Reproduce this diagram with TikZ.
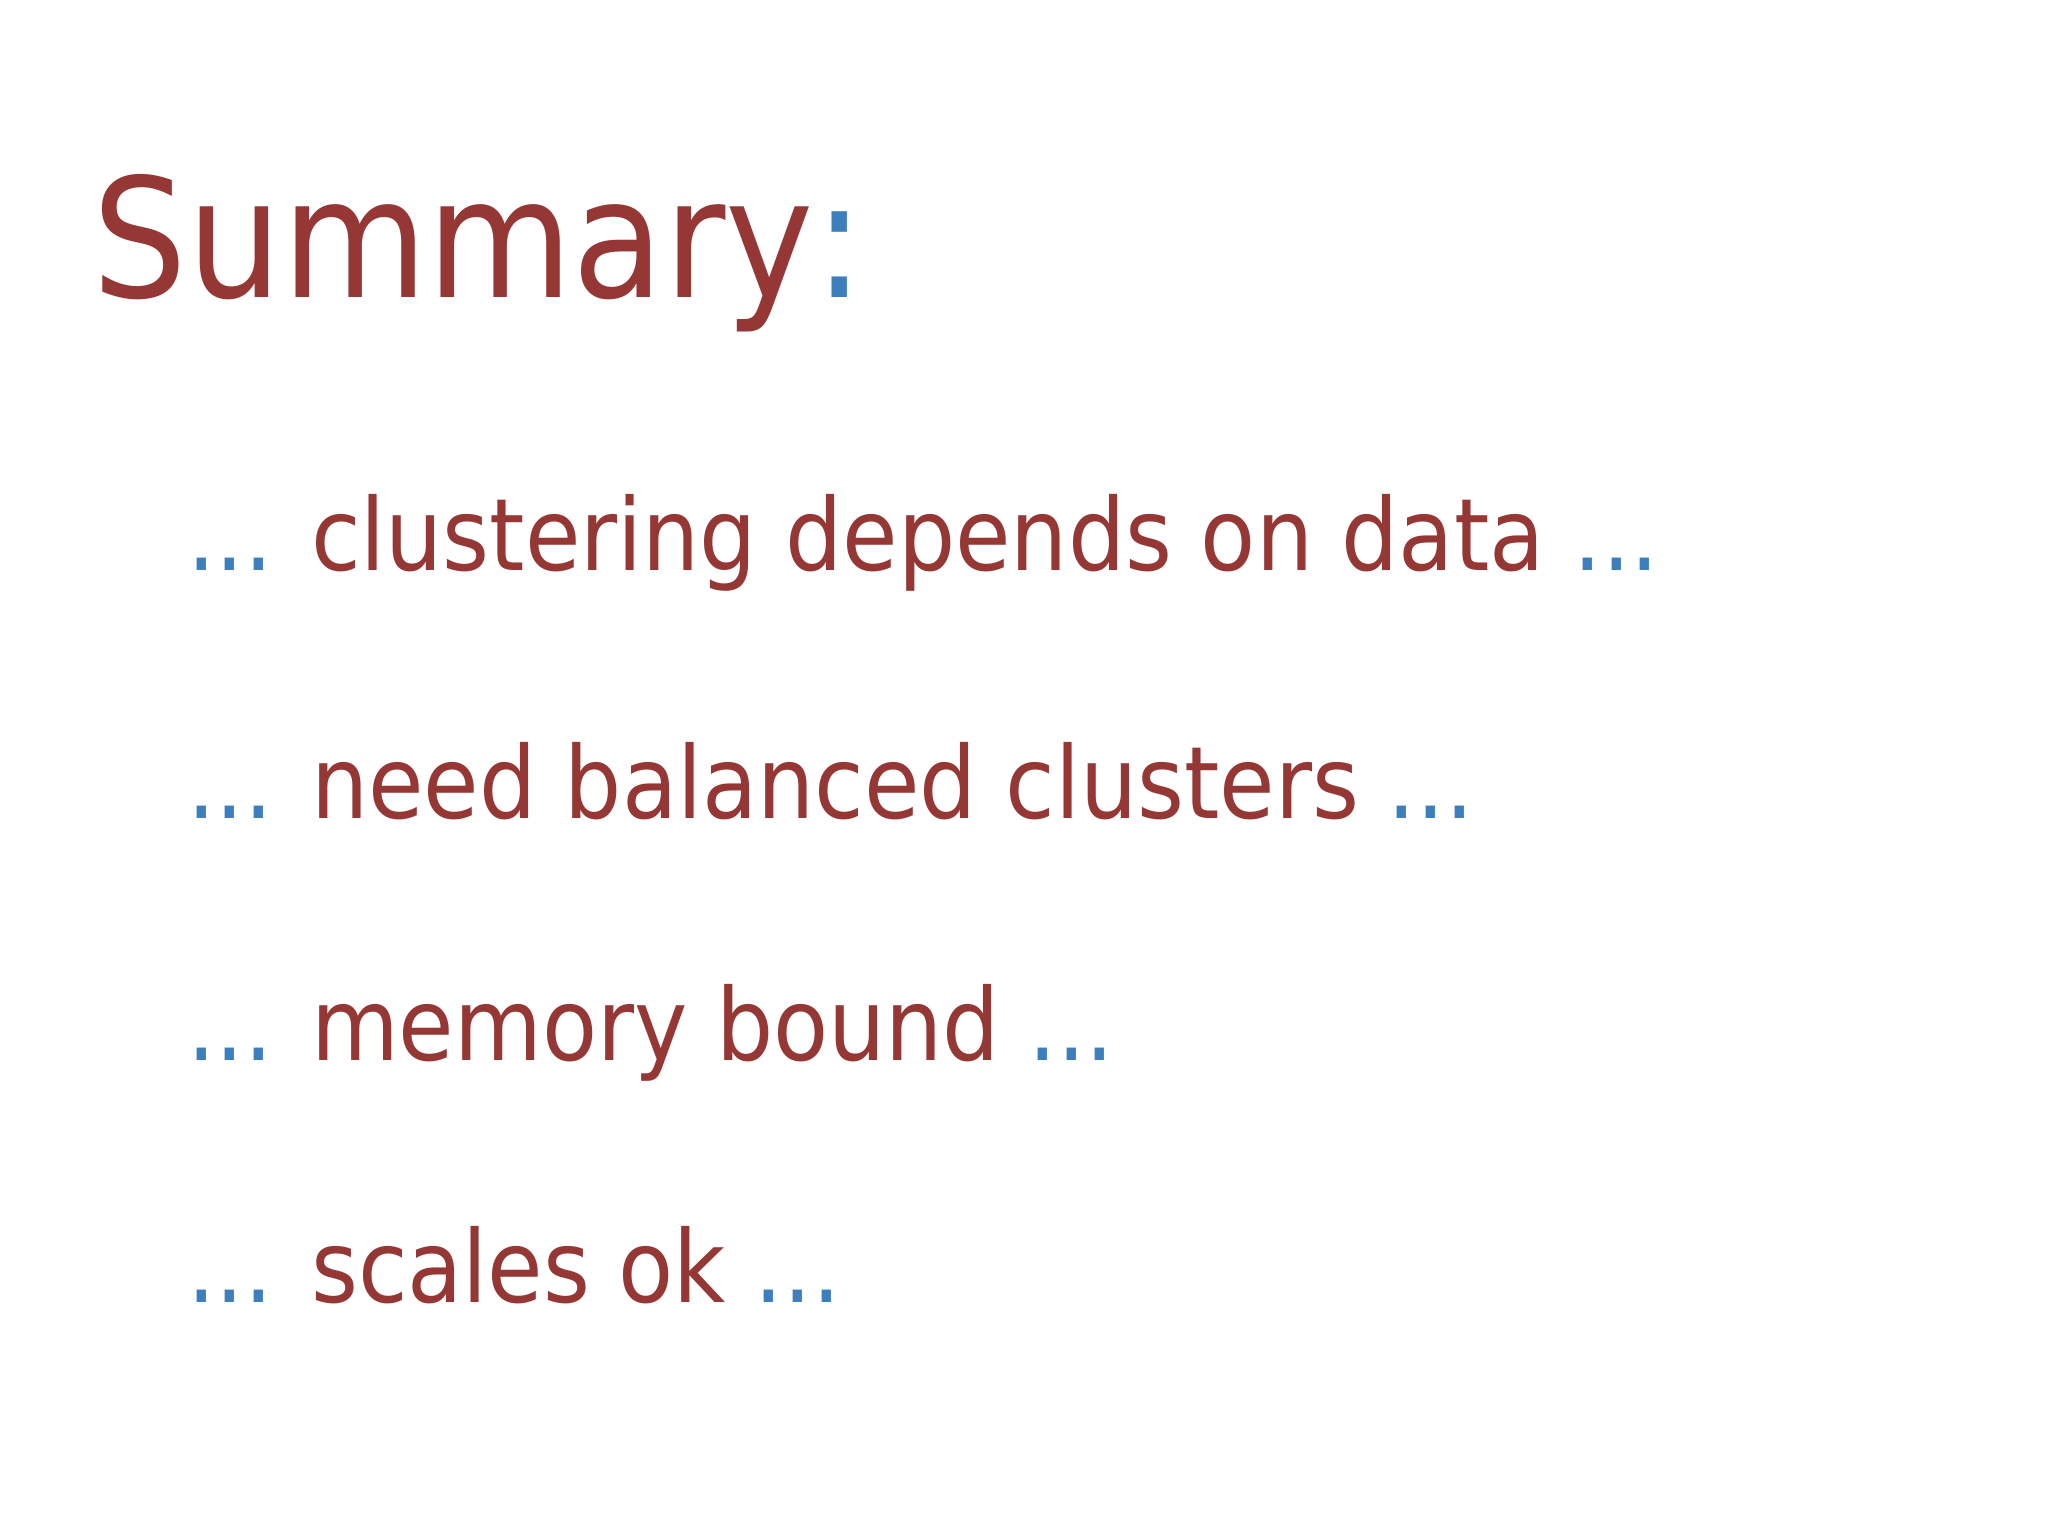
\documentclass[tikz,border=0pt]{standalone}
\usepackage{fontspec}
\setmainfont{DejaVu Sans Condensed}
\definecolor{dred}{HTML}{953735}
\definecolor{dblue}{HTML}{3D7EBD}
\begin{document}
\begin{tikzpicture}[x=1pt,y=1pt,
  line/.style={anchor=base west,inner sep=0pt,font=\fontsize{76.7}{90}\selectfont,text=dred}]
\fill[white] (0,0) rectangle (1568,1176);
\useasboundingbox (0,0) rectangle (1568,1176);
\node[line,font=\fontsize{127}{150}\selectfont] (t) at (71,1176-228) {Summary\textcolor{dblue}{:}};
\node[line] (a) at (143,1176-437) {\textcolor{dblue}{...} clustering depends on data \textcolor{dblue}{...}};
\node[line] (b) at (143,1176-627) {\textcolor{dblue}{...} need balanced clusters \textcolor{dblue}{...}};
\node[line] (c) at (143,1176-812) {\textcolor{dblue}{...} memory bound \textcolor{dblue}{...}};
\node[line] (d) at (143,1176-997) {\textcolor{dblue}{...} scales ok \textcolor{dblue}{...}};
\end{tikzpicture}
\end{document}
